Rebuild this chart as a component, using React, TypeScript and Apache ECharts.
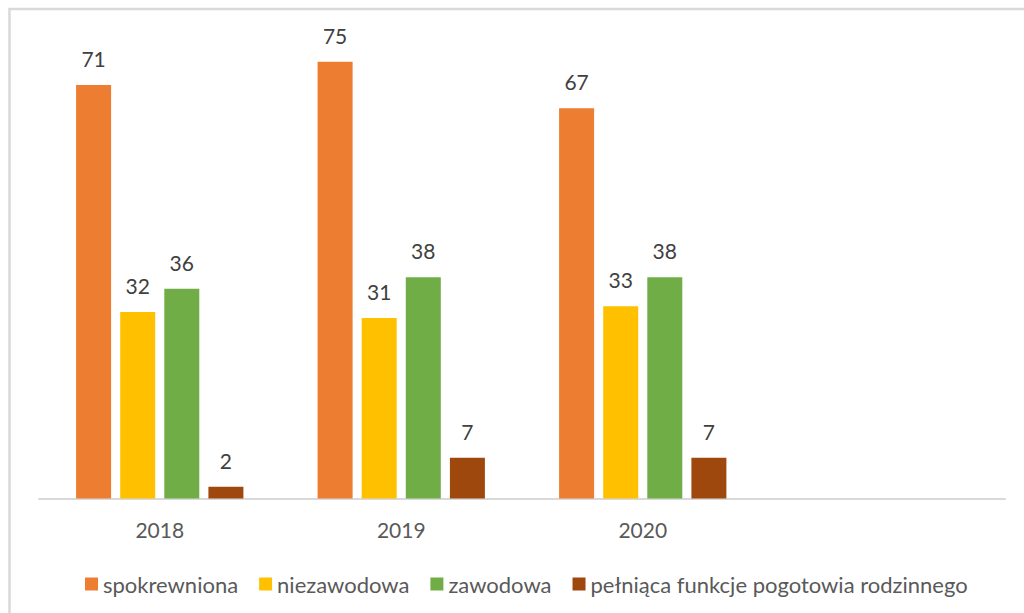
import React, { useEffect, useRef } from "react";
import * as echarts from "echarts";

const categories = ["2018", "2019", "2020", ""];
const seriesNames = ["spokrewniona", "niezawodowa", "zawodowa", "pełniąca funkcje pogotowia rodzinnego"];
const spokrewniona = [71, 75, 67, null];
const niezawodowa = [32, 31, 33, null];
const zawodowa = [36, 38, 38, null];
const pogotowie = [2, 7, 7, null];
const colors = ["#ED7D31", "#FFC000", "#70AD47", "#9E480E"];

export default function App() {
  const ref = useRef<HTMLDivElement>(null);
  useEffect(() => {
    const chart = echarts.init(ref.current!, null, { renderer: "svg" });
    const values = [spokrewniona, niezawodowa, zawodowa, pogotowie];
    const font = "Lato, 'Liberation Sans', sans-serif";
    chart.setOption({
      animation: false,
      backgroundColor: "#ffffff",
      textStyle: { fontFamily: font },
      graphic: [
        {
          type: "rect",
          shape: { x: 9.5, y: 9, width: 1100, height: 700 },
          style: { fill: "none", stroke: "#d9d9d9", lineWidth: 2.5 },
          silent: true,
        },
      ],
      legend: {
        left: 80,
        top: 568,
        itemWidth: 13,
        itemHeight: 13,
        itemGap: 21,
        icon: "rect",
        textStyle: { fontSize: 22, color: "#595959", fontFamily: font },
        data: seriesNames,
      },
      grid: { left: 39, right: 19, top: 32.5, bottom: 114.5, containLabel: false },
      xAxis: {
        type: "category",
        data: categories,
        axisLine: { lineStyle: { color: "#d9d9d9", width: 2 } },
        axisTick: { show: false },
        axisLabel: { fontSize: 21, color: "#595959", margin: 20, fontFamily: font },
      },
      yAxis: { type: "value", min: 0, max: 80, show: false, splitLine: { show: false } },
      series: seriesNames.map((name, i) => ({
        name,
        type: "bar",
        data: values[i],
        barWidth: 35,
        barGap: "26%",
        itemStyle: { color: colors[i] },
        label: {
          show: true,
          position: "top",
          distance: 16,
          fontSize: 21,
          color: "#404040",
          fontFamily: font,
        },
      })),
    });
    return () => chart.dispose();
  }, []);
  return <div ref={ref} style={{ position: "fixed", left: 0, top: 0, width: 1024, height: 613 }} />;
}
